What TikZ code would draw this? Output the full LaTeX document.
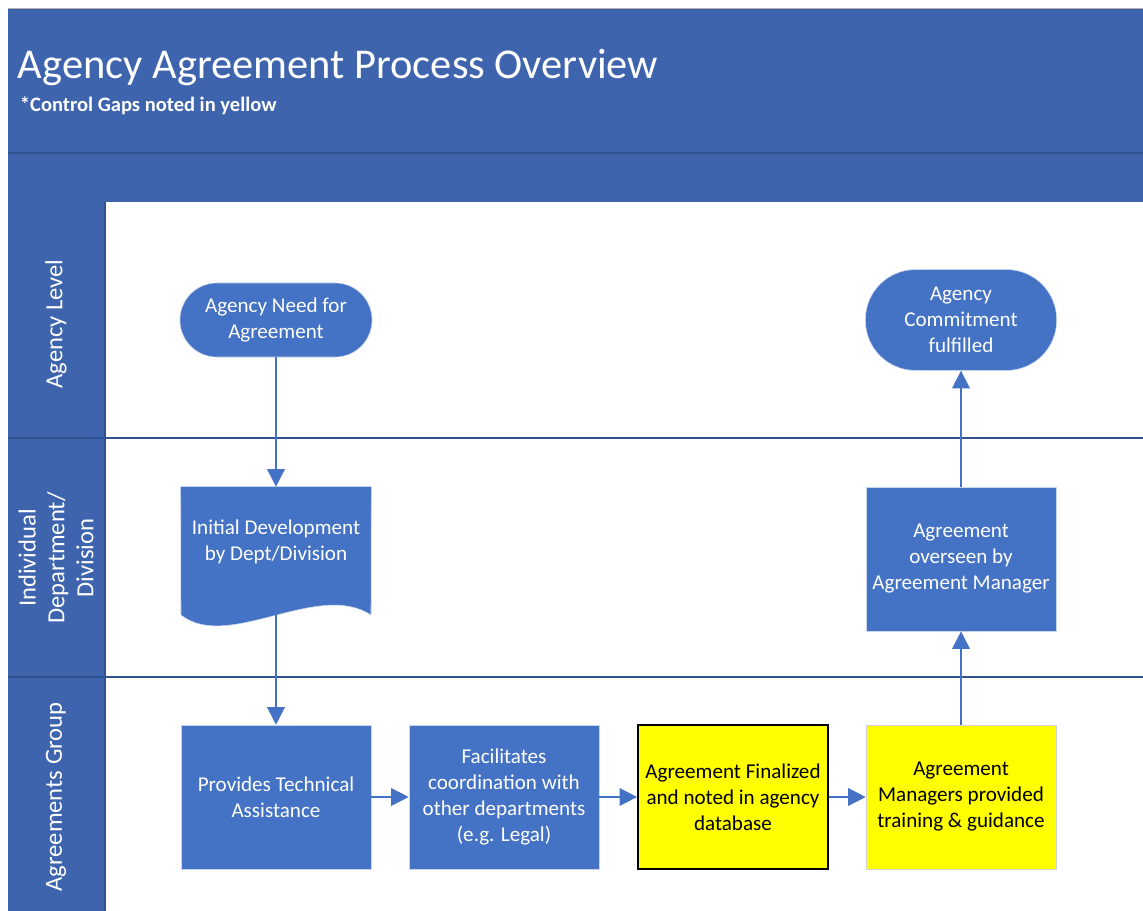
\documentclass[tikz,border=0pt]{standalone}
\usepackage{fontspec}
\setmainfont{Carlito}
\usepackage{tikz}
\usetikzlibrary{shapes,arrows.meta,positioning,calc,backgrounds}
\definecolor{hdrblue}{RGB}{62,100,173}
\definecolor{boxblue}{RGB}{68,114,196}
\definecolor{lanenavy}{RGB}{47,82,143}
\definecolor{gapyellow}{RGB}{255,255,0}
\tikzset{
    block/.style={rectangle, draw=white!70!boxblue, fill=boxblue, text=white, align=center, minimum width=4.75cm, minimum height=3.6cm, font=\fontsize{15}{18.5}\selectfont},
    gap/.style={block, fill=gapyellow, text=black},
    terminal/.style={block, rounded corners=0.92cm, minimum height=1.85cm, minimum width=4.8cm},
    lanelabel/.style={rotate=90, text=white, align=center, font=\fontsize{17.5}{20.5}\selectfont},
    line/.style={draw=boxblue, line width=1.2pt, -{Triangle[width=0.44cm,length=0.44cm]}}
}

\begin{document}
\begin{tikzpicture}[x=0.025cm, y=-0.025cm]
    \useasboundingbox (0,0) rectangle (1143,911);

    % Header and lanes
    \fill[hdrblue] (8,8) rectangle (1143,202);
    \draw[lanenavy, line width=1pt] (8,153) -- (1143,153);
    \draw[gray!60] (8,8) -- (1143,8);
    \fill[hdrblue] (8,202) rectangle (105,911);
    \draw[lanenavy, line width=1pt] (105,202) -- (105,911);
    \draw[lanenavy, line width=1pt] (8,438) -- (1143,438);
    \draw[lanenavy, line width=1pt] (8,677) -- (1143,677);

    % Title
    \node[anchor=west, text=white, font=\fontsize{30.2}{35}\selectfont] (title) at (13,68) {Agency Agreement Process Overview};
    \node[anchor=west, text=white, font=\bfseries\fontsize{14.6}{17}\selectfont] (note) at (15,106) {*Control Gaps noted in yellow};

    % Lane labels
    \node[lanelabel] (lane1) at (56,324) {Agency Level};
    \node[lanelabel] (lane2) at (56,558) {Individual\\Department/\\Division};
    \node[lanelabel] (lane3) at (56,797) {Agreements Group};

    % Agency level
    \node[terminal] (need) at (276,320) {Agency Need for\\Agreement};
    \node[terminal, rounded corners=1.25cm, minimum height=2.52cm, minimum width=4.78cm] (commit) at (961,320) {Agency\\Commitment\\fulfilled};

    % Department / division
    \node[block, draw=none, fill=none, minimum height=2.75cm] (initdev) at (276,542) {Initial Development\\by Dept/Division};
    \coordinate (initdevwave) at (276,613);
    \begin{scope}[on background layer]
        \path[fill=boxblue, draw=white!70!boxblue]
            (initdev.north west) -- (181,615)
            .. controls (228,652) and (318,580) .. (371,615)
            -- (initdev.north east) -- cycle;
    \end{scope}
    \node[block] (overseen) at (961,559) {Agreement\\overseen by\\Agreement Manager};

    % Agreements group
    \node[block] (provides) at (276,797) {Provides Technical\\Assistance};
    \node[block] (facil) at (504,797) {Facilitates\\coordination with\\other departments\\(e.g. Legal)};
    \node[gap, draw=black, line width=1.2pt] (final) at (733,797) {Agreement Finalized\\and noted in agency\\database};
    \node[gap, draw=gray!35] (managers) at (961,797) {Agreement\\Managers provided\\training \& guidance};

    % Connectors
    \draw[line] (need) -- (initdev.north);
    \draw[line] (initdevwave) -- (provides);
    \draw[line] (provides) -- (facil);
    \draw[line] (facil) -- (final);
    \draw[line] (final) -- (managers);
    \draw[line] (managers) -- (overseen);
    \draw[line] (overseen) -- (commit);
\end{tikzpicture}
\end{document}
